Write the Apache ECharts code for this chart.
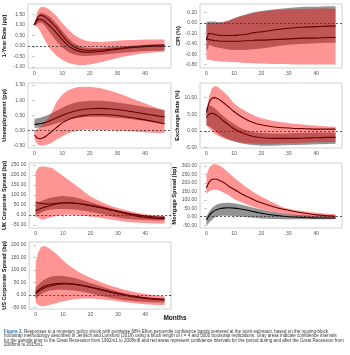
<!DOCTYPE html>
<html>
<head>
<meta charset="utf-8">
<script src="https://cdn.jsdelivr.net/npm/echarts@6/dist/echarts.min.js"></script>
<style>html,body{margin:0;padding:0;background:#fff;}#c{width:350px;height:355px;}</style>
</head>
<body>
<div id="c"></div>
<script>
const months = [0,1,2,3,4,5,6,8,10,12,14,16,18,20,24,28,32,36,40,44,47];
const xTicks = [0,10,20,30,40];

// 1-Year Rate (pp)
const rateGrayLo = [0.95,1.05,1.10,1.05,0.90,0.72,0.55,0.20,-0.08,-0.28,-0.40,-0.46,-0.48,-0.47,-0.43,-0.38,-0.33,-0.28,-0.25,-0.23,-0.22];
const rateGrayHi = [1.05,1.40,1.55,1.55,1.50,1.42,1.32,1.05,0.72,0.40,0.15,0.00,-0.08,-0.10,-0.10,-0.06,-0.02,0.02,0.05,0.07,0.08];
const rateRedLo  = [0.95,0.90,0.70,0.45,0.20,-0.02,-0.20,-0.48,-0.66,-0.80,-0.87,-0.91,-0.91,-0.88,-0.78,-0.65,-0.52,-0.42,-0.35,-0.30,-0.28];
const rateRedHi  = [1.05,1.60,1.82,1.85,1.82,1.75,1.65,1.40,1.08,0.80,0.55,0.38,0.26,0.20,0.18,0.22,0.26,0.28,0.30,0.30,0.30];
const ratePre    = [1.00,1.30,1.45,1.42,1.35,1.25,1.13,0.85,0.50,0.20,-0.02,-0.15,-0.20,-0.22,-0.20,-0.15,-0.10,-0.05,0.00,0.03,0.04];
const ratePost   = [1.00,1.20,1.25,1.22,1.12,1.00,0.88,0.60,0.30,0.02,-0.15,-0.25,-0.30,-0.30,-0.27,-0.20,-0.13,-0.08,-0.04,-0.02,-0.01];
const rateTicks  = [-1,-0.5,0,0.5,1,1.5];

// CPI (%)
const cpiGrayLo = [-0.55,-0.42,-0.44,-0.46,-0.47,-0.48,-0.49,-0.51,-0.52,-0.52,-0.52,-0.51,-0.50,-0.49,-0.46,-0.43,-0.41,-0.40,-0.39,-0.38,-0.38];
const cpiGrayHi = [0.02,0.03,0.03,0.03,0.02,0.02,0.02,0.05,0.09,0.13,0.16,0.19,0.21,0.23,0.26,0.28,0.30,0.31,0.31,0.32,0.32];
const cpiRedLo  = [-0.70,-0.71,-0.72,-0.73,-0.73,-0.74,-0.74,-0.75,-0.75,-0.76,-0.77,-0.77,-0.78,-0.78,-0.79,-0.79,-0.80,-0.80,-0.80,-0.80,-0.80];
const cpiRedHi  = [-0.02,0.00,0.00,0.00,0.00,0.00,0.01,0.04,0.08,0.12,0.15,0.18,0.20,0.22,0.24,0.26,0.27,0.27,0.28,0.28,0.27];
const cpiPre    = [-0.33,-0.20,-0.21,-0.22,-0.23,-0.24,-0.24,-0.24,-0.24,-0.23,-0.22,-0.20,-0.18,-0.17,-0.14,-0.11,-0.09,-0.08,-0.07,-0.06,-0.06];
const cpiPost   = [-0.30,-0.32,-0.33,-0.34,-0.34,-0.35,-0.35,-0.35,-0.35,-0.35,-0.34,-0.34,-0.33,-0.33,-0.32,-0.31,-0.30,-0.29,-0.29,-0.28,-0.28];
const cpiTicks  = [-0.8,-0.6,-0.4,-0.2,0,0.2];

// Unemployment (pp)
const unGrayLo = [0.08,0.09,0.10,0.11,0.13,0.15,0.18,0.24,0.30,0.35,0.39,0.42,0.44,0.45,0.45,0.43,0.40,0.36,0.31,0.25,0.20];
const unGrayHi = [0.38,0.40,0.42,0.45,0.48,0.52,0.56,0.65,0.75,0.83,0.90,0.95,0.97,0.98,0.98,0.95,0.90,0.84,0.78,0.72,0.68];
const unRedLo  = [-0.30,-0.45,-0.50,-0.50,-0.48,-0.45,-0.42,-0.30,-0.20,-0.10,-0.04,0.00,0.02,0.02,0.01,0.00,-0.02,-0.04,-0.06,-0.08,-0.08];
const unRedHi  = [0.00,0.05,0.12,0.20,0.30,0.42,0.55,0.95,1.18,1.32,1.40,1.44,1.45,1.45,1.40,1.30,1.17,1.03,0.89,0.75,0.66];
const unPre    = [0.20,0.21,0.22,0.24,0.27,0.30,0.34,0.42,0.50,0.57,0.63,0.67,0.70,0.72,0.73,0.71,0.67,0.61,0.55,0.49,0.45];
const unPost   = [-0.15,-0.25,-0.27,-0.25,-0.20,-0.12,-0.05,0.10,0.25,0.35,0.42,0.47,0.50,0.52,0.53,0.51,0.47,0.41,0.35,0.28,0.22];
const unTicks  = [-0.5,0,0.5,1,1.5];

// Exchange Rate (%)
const exGrayLo = [1.5,1.3,0.8,0.0,-0.7,-1.3,-1.8,-2.6,-3.2,-3.7,-4.0,-4.2,-4.4,-4.5,-4.5,-4.4,-4.3,-4.2,-4.1,-4.0,-3.9];
const exGrayHi = [7.0,7.6,7.4,6.8,6.0,5.2,4.5,3.2,2.0,1.0,0.3,-0.2,-0.5,-0.7,-0.8,-0.8,-0.7,-0.6,-0.5,-0.5,-0.5];
const exRedLo  = [1.8,0.8,-0.2,-0.9,-1.4,-1.8,-2.2,-2.8,-3.2,-3.5,-3.7,-3.8,-3.9,-3.9,-3.9,-3.8,-3.7,-3.6,-3.5,-3.4,-3.4];
const exRedHi  = [6.0,10.5,12.8,13.5,13.3,12.7,12.0,10.3,8.3,7.0,6.0,5.1,4.4,3.8,3.0,2.5,2.1,1.8,1.5,1.3,1.2];
const exPre    = [4.0,5.0,5.3,5.0,4.5,3.8,3.1,1.8,0.6,-0.3,-1.0,-1.5,-1.9,-2.1,-2.3,-2.3,-2.3,-2.2,-2.1,-2.0,-2.0];
const exPost   = [5.5,8.5,9.8,10.0,9.7,9.2,8.6,7.2,5.8,4.6,3.6,2.8,2.2,1.8,1.2,0.9,0.7,0.6,0.5,0.5,0.5];
const exTicks  = [-5,0,5,10];

// UK Corporate Spread (bp)
const ukGrayLo = [0,5,12,18,22,25,27,30,30,29,27,24,20,15,5,-8,-17,-22,-25,-27,-28];
const ukGrayHi = [60,65,70,75,80,85,88,93,95,93,89,82,74,65,48,32,18,6,-3,-7,-8];
const ukRedLo  = [-5,-15,-22,-22,-18,-14,-10,-4,0,1,0,-2,-5,-8,-15,-24,-32,-37,-40,-42,-42];
const ukRedHi  = [215,238,242,242,240,238,235,215,195,175,155,135,112,92,65,42,27,14,4,-2,-5];
const ukPre    = [65,60,58,56,55,55,56,59,61,61,59,56,51,46,36,24,13,3,-5,-10,-12];
const ukPost   = [20,28,33,38,42,46,50,56,60,61,60,57,53,48,37,24,10,-3,-12,-17,-18];
const ukTicks  = [-50,0,50,100,150,200,250];

// Mortgage Spread (bp)
const mgGrayLo = [-55,-35,-18,-5,2,5,6,6,4,1,-2,-5,-8,-10,-13,-15,-15,-15,-15,-15,-15];
const mgGrayHi = [0,30,52,65,73,78,81,83,80,74,67,58,50,42,29,19,12,8,5,4,3];
const mgRedLo  = [135,150,158,160,158,152,145,128,105,90,76,64,54,44,29,17,7,0,-4,-8,-10];
const mgRedHi  = [250,290,308,312,308,300,290,262,232,205,180,158,137,118,85,55,40,30,23,18,15];
const mgPre    = [-20,8,25,36,43,48,51,53,51,47,41,34,27,20,10,3,-2,-5,-7,-8,-8];
const mgPost   = [170,205,220,223,220,213,205,182,162,143,125,110,95,82,60,44,31,20,11,6,3];
const mgTicks  = [-50,0,50,100,150,200,250,300];

// US Corporate Spread (bp)
const usGrayLo = [-15,-5,3,9,14,17,19,21,21,20,18,15,11,6,-4,-13,-20,-25,-28,-30,-30];
const usGrayHi = [30,42,52,60,66,71,74,77,76,73,68,62,55,48,34,20,8,-2,-9,-12,-13];
const usRedLo  = [-30,-40,-45,-45,-43,-40,-37,-31,-26,-21,-17,-15,-14,-14,-17,-22,-28,-33,-37,-40,-40];
const usRedHi  = [130,172,192,196,192,186,178,160,138,120,104,90,79,69,50,35,22,12,4,-2,-5];
const usPre    = [10,20,28,34,38,41,43,46,47,46,44,41,37,32,22,12,3,-5,-11,-15,-17];
const usPost   = [5,14,21,27,32,35,38,42,44,44,42,39,35,30,20,9,0,-8,-14,-18,-20];
const usTicks  = [-50,0,50,100,150,200];

const panels = [
  {name:'1-Year Rate (pp)', gl:rateGrayLo, gh:rateGrayHi, rl:rateRedLo, rh:rateRedHi, a:ratePre, b:ratePost, ticks:rateTicks, min:-1.05, max:1.98},
  {name:'CPI (%)', gl:cpiGrayLo, gh:cpiGrayHi, rl:cpiRedLo, rh:cpiRedHi, a:cpiPre, b:cpiPost, ticks:cpiTicks, min:-0.865, max:0.365},
  {name:'Unemployment (pp)', gl:unGrayLo, gh:unGrayHi, rl:unRedLo, rh:unRedHi, a:unPre, b:unPost, ticks:unTicks, min:-0.58, max:1.57},
  {name:'Exchange Rate (%)', gl:exGrayLo, gh:exGrayHi, rl:exRedLo, rh:exRedHi, a:exPre, b:exPost, ticks:exTicks, min:-5.2, max:14.4},
  {name:'UK Corporate Spread (bp)', gl:ukGrayLo, gh:ukGrayHi, rl:ukRedLo, rh:ukRedHi, a:ukPre, b:ukPost, ticks:ukTicks, min:-65, max:260},
  {name:'Mortgage Spread (bp)', gl:mgGrayLo, gh:mgGrayHi, rl:mgRedLo, rh:mgRedHi, a:mgPre, b:mgPost, ticks:mgTicks, min:-67, max:318},
  {name:'US Corporate Spread (bp)', gl:usGrayLo, gh:usGrayHi, rl:usRedLo, rh:usRedHi, a:usPre, b:usPost, ticks:usTicks, min:-56, max:212}
];

const gridPos = [
  {left:28, top:4, width:143, height:64},
  {left:200, top:4, width:142, height:64},
  {left:28, top:83, width:143, height:65},
  {left:200, top:83, width:142, height:65},
  {left:28, top:163, width:143, height:65},
  {left:200, top:163, width:142, height:65},
  {left:28, top:242, width:143, height:67}
];

const GRAY = '#939393';
const RED = 'rgba(255,0,0,0.42)';
const FONT = 'Liberation Sans';

const pairs = ys => months.map((m,k)=>[m, ys[k]]);

function bandSeries(i, lo, hi, fill, z) {
  const rows = months.map((m,k)=>[m, lo[k], hi[k]]);
  return {
    type:'custom', xAxisIndex:i, yAxisIndex:i, silent:true, animation:false, z:z, clip:true,
    encode:{x:0, y:[1,2]}, data:rows,
    renderItem:(params, api) => {
      if (params.dataIndex !== 0) return null;
      const top = rows.map(r => api.coord([r[0], r[2]]));
      const bot = rows.map(r => api.coord([r[0], r[1]])).reverse();
      return {type:'polygon', shape:{points: top.concat(bot)}, style:{fill:fill, stroke:null}};
    }
  };
}

const grids = [], xAxes = [], yAxes = [], series = [];
panels.forEach((p,i)=>{
  grids.push(Object.assign({show:true, borderColor:'#c4c4c4', borderWidth:0.8, backgroundColor:'#fff'}, gridPos[i]));
  xAxes.push({type:'value', gridIndex:i, min:-2.35, max:49.35,
    axisLine:{show:false}, splitLine:{show:false},
    axisTick:{show:true, length:2, customValues:xTicks, lineStyle:{color:'#666', width:0.5}},
    axisLabel:{customValues:xTicks, fontSize:5, color:'#555', margin:3, fontFamily:FONT}});
  yAxes.push({type:'value', gridIndex:i, min:p.min, max:p.max,
    axisLine:{show:false}, splitLine:{show:false},
    axisTick:{show:true, length:2, customValues:p.ticks, lineStyle:{color:'#666', width:0.5}},
    axisLabel:{customValues:p.ticks, fontSize:5, color:'#555', margin:3, fontFamily:FONT, formatter:v=>Number(v).toFixed(2)},
    name:p.name, nameLocation:'middle', nameRotate:90, nameGap: i%2===0 ? 21 : 19,
    nameTextStyle:{fontSize:5.6, fontWeight:'bold', color:'#111', fontFamily:FONT}});
  const lineCommon = {type:'line', xAxisIndex:i, yAxisIndex:i, smooth:0.3, symbol:'none', silent:true, animation:false};
  series.push(bandSeries(i, p.gl, p.gh, GRAY, 2));
  series.push(Object.assign({}, lineCommon, {data:pairs(p.a), lineStyle:{color:'#000', width:1.1}, z:3}));
  series.push(Object.assign({}, lineCommon, {data:pairs(p.b), lineStyle:{color:'#000', width:1.1}, z:3}));
  series.push(bandSeries(i, p.rl, p.rh, RED, 4));
  series.push(Object.assign({}, lineCommon, {data:[], z:5,
    markLine:{silent:true, symbol:'none', animation:false, label:{show:false}, data:[{yAxis:0}],
      lineStyle:{type:[2,2], color:'#333', width:0.8}}}));
});

const caption = [
  '{a|Figure 2.} Responses to a monetary policy shock with pointwise 68% Efron percentile confidence bands centered at the point estimator, based on the moving-block',
  'bootstrap methodology described in Jentsch and Lunsford (2019) using a block length of \u2113 = 4 and 5000 bootstrap replications. Gray areas indicate confidence intervals',
  'for the sample prior to the Great Recession from 1992m1 to 2008m8 and red areas represent confidence intervals for the period during and after the Great Recession from',
  '2008m9 to 2015m1.'
];
const graphics = [{type:'text', left:'center', top:315, style:{text:'Months', fontSize:6.5, fontWeight:'bold', fontFamily:FONT, fill:'#111'}}];
caption.forEach((t,k)=>{
  graphics.push({type:'text', left:4, top:329 + k*4.4, style:{text:t, fontSize:4.5, fontFamily:FONT, fill:'#333',
    rich:{a:{fontSize:4.5, fontWeight:'bold', fill:'#2f6fb5', fontFamily:FONT}}}});
});

const chart = echarts.init(document.getElementById('c'), null, {renderer:'canvas'});
chart.setOption({animation:false, grid:grids, xAxis:xAxes, yAxis:yAxes, series:series, graphic:graphics});
</script>
</body>
</html>
